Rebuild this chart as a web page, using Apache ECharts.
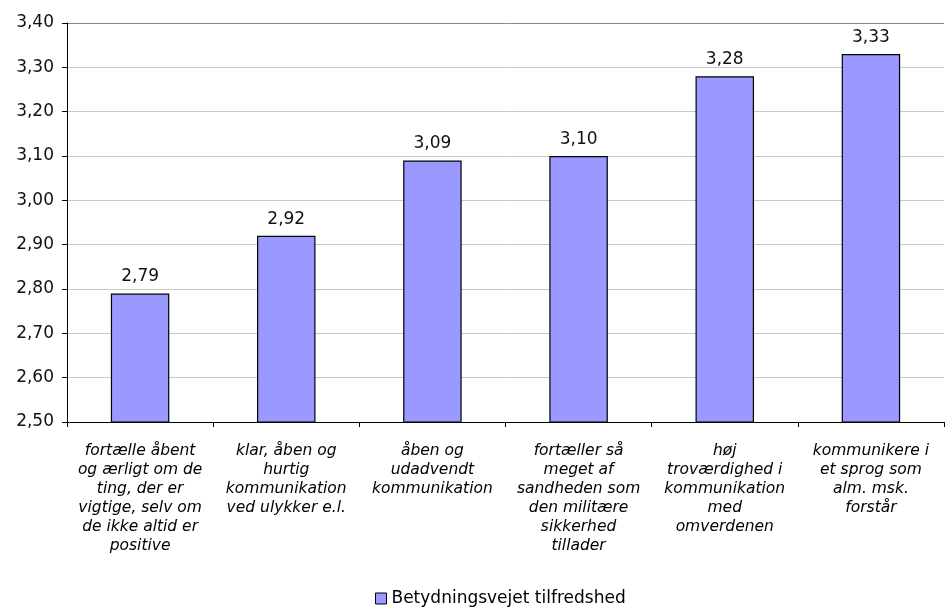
<!DOCTYPE html>
<html><head><meta charset="utf-8">
<script src="https://cdn.jsdelivr.net/npm/echarts@6/dist/echarts.min.js"></script>
<style>html,body{margin:0;padding:0;background:#fff}#c{width:945px;height:610px}</style>
</head><body><div id="c"></div>
<script>
const categories = [
  "fortælle åbent\nog ærligt om de\nting, der er\nvigtige, selv om\nde ikke altid er\npositive",
  "klar, åben og\nhurtig\nkommunikation\nved ulykker e.l.",
  "åben og\nudadvendt\nkommunikation",
  "fortæller så\nmeget af\nsandheden som\nden militære\nsikkerhed\ntillader",
  "høj\ntroværdighed i\nkommunikation\nmed\nomverdenen",
  "kommunikere i\net sprog som\nalm. msk.\nforstår"
];
const seriesName = "Betydningsvejet tilfredshed";
const values = [2.79, 2.92, 3.09, 3.10, 3.28, 3.33];
const yMin = 2.5, yMax = 3.4, yStep = 0.1;

const fmt = v => Number(v).toFixed(2).replace('.', ',');
const FONT = "DejaVu Sans";
const chart = echarts.init(document.getElementById('c'), null, {renderer: 'canvas'});
chart.setOption({
  animation: false,
  backgroundColor: '#fff',
  grid: {left: 67, right: 1, top: 23, bottom: 188, containLabel: false},
  legend: {
    data: [seriesName], left: 370, top: 585,
    itemWidth: 11, itemHeight: 11, icon: 'rect', itemGap: 10,
    itemStyle: {borderColor: '#000', borderWidth: 1},
    textStyle: {fontFamily: FONT, fontSize: 17, color: '#000'}
  },
  xAxis: {
    type: 'category', data: categories,
    axisLine: {lineStyle: {color: '#000', width: 1}},
    axisTick: {show: true, length: 5, lineStyle: {color: '#000'}},
    axisLabel: {interval: 0, margin: 19, fontFamily: FONT, fontSize: 15.5, fontStyle: 'italic',
      color: '#000', lineHeight: 19, align: 'center'}
  },
  yAxis: {
    type: 'value', min: yMin, max: yMax, interval: yStep,
    axisLine: {show: true, lineStyle: {color: '#000', width: 1}},
    axisTick: {show: true, length: 5, lineStyle: {color: '#000'}},
    axisLabel: {formatter: fmt, fontFamily: FONT, fontSize: 17, color: '#111', margin: 13},
    splitLine: {show: true, lineStyle: {color: ['#c8c8c8','#c8c8c8','#c8c8c8','#c8c8c8','#c8c8c8','#c8c8c8','#c8c8c8','#c8c8c8','#c8c8c8','#888888']}}
  },
  series: [{
    name: seriesName, type: 'bar', data: values, barWidth: '40%',
    itemStyle: {color: '#9999FF', borderColor: '#000', borderWidth: 1.2},
    label: {show: true, position: 'top', distance: 8, formatter: p => fmt(p.value),
      fontFamily: FONT, fontSize: 17, color: '#111'}
  }]
});
</script></body></html>
